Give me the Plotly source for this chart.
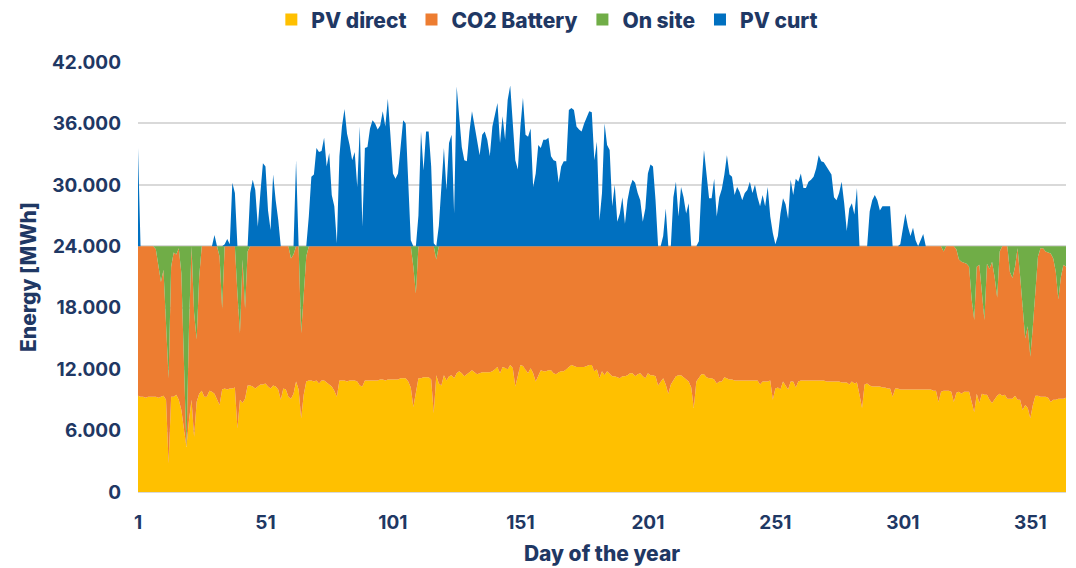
import plotly.graph_objects as go

days = list(range(1, 366))

pv_direct = [
    9400, 9300, 9300, 9200, 9300, 9300, 9300, 9300, 9200, 9300,
    9400, 9000, 2800, 9300, 9300, 9500, 9000, 8000, 6000, 4400,
    7000, 9000, 5400, 8800, 9600, 9900, 9300, 9300, 9900, 9800,
    9600, 9100, 8500, 10000, 10100, 10000, 10100, 10100, 10200, 6200,
    9000, 8700, 9100, 10400, 10400, 10300, 10100, 10300, 10500, 10500,
    10600, 10300, 10100, 10400, 10300, 10000, 9000, 10100, 10000, 9300,
    9100, 9600, 10800, 10000, 7200, 9500, 10800, 10900, 10900, 10800,
    10900, 10600, 10900, 10900, 10700, 10500, 10300, 9900, 9300, 10900,
    10900, 10900, 10800, 10900, 10900, 10900, 10800, 10400, 10300, 10900,
    10900, 10900, 10900, 10900, 10900, 11000, 11000, 10900, 11000, 11000,
    11000, 11000, 11000, 11100, 11100, 11100, 10800, 10200, 8300, 9800,
    11100, 11100, 11200, 11200, 11200, 11000, 7700, 11400, 10600, 10400,
    11400, 10900, 11300, 11400, 11100, 11600, 11800, 11600, 11300, 11500,
    11700, 11900, 11700, 11500, 11600, 11700, 11700, 11700, 11700, 11800,
    12000, 12200, 11600, 12200, 12100, 12000, 12400, 12100, 10300, 11500,
    12400, 12300, 11900, 11600, 12100, 11600, 10800, 11400, 11900, 11800,
    11800, 11900, 11900, 11600, 11500, 11700, 11800, 11800, 12000, 12200,
    12400, 12300, 12200, 12200, 12200, 12200, 12300, 12400, 12400, 11800,
    12000, 11100, 11800, 11400, 11800, 11500, 11300, 11300, 11200, 11100,
    11300, 11300, 11400, 11600, 11600, 11300, 11500, 11600, 11300, 11100,
    11600, 11400, 11400, 11300, 10400, 10800, 11100, 10500, 9600, 10500,
    10900, 11300, 11400, 11400, 11200, 11000, 10800, 10200, 8200, 10800,
    11200, 11500, 11500, 11200, 11100, 11100, 11000, 10600, 10800, 10800,
    11200, 11100, 11000, 11000, 10900, 10900, 10900, 10900, 10900, 10900,
    10900, 10900, 10900, 10900, 10500, 10800, 10800, 10800, 10900, 9000,
    10100, 10200, 10000, 10800, 10400, 10000, 10800, 10800, 10200, 10800,
    10900, 10900, 10900, 10900, 10900, 10900, 10900, 10900, 10900, 10900,
    10800, 10800, 10800, 10800, 10800, 10800, 10700, 10700, 10700, 10500,
    10800, 10600, 10700, 9500, 8200, 10500, 10600, 10400, 10300, 10300,
    10300, 10300, 10200, 10200, 10100, 10100, 9300, 10100, 10100, 10000,
    10000, 10000, 10000, 10000, 10000, 10000, 10000, 10000, 10000, 10000,
    10000, 10000, 9900, 9900, 8800, 9800, 9900, 9900, 9900, 9800,
    8800, 9700, 9800, 9600, 9800, 9800, 9800, 8800, 7800, 9600,
    8700, 9600, 9500, 9500, 9000, 8700, 9100, 9400, 9600, 9400,
    9500, 9100, 9100, 9100, 9400, 9000, 9000, 8000, 8500, 8200,
    7200, 8500, 9400, 9400, 9300, 9300, 9300, 9200, 8800, 9000,
    9000, 9100, 9100, 9100, 9200,
]

co2_battery = [
    14600, 14700, 14700, 14800, 14700, 14700, 14700, 14400, 13100, 11200,
    12300, 7100, 8300, 12700, 14100, 13700, 14800, 13400, 6200, 0,
    9100, 15000, 12100, 6100, 11400, 14100, 14700, 14700, 14100, 14200,
    14400, 14900, 14500, 7900, 13900, 14000, 13900, 13900, 13800, 13200,
    6500, 14000, 8800, 13100, 13600, 13700, 13900, 13700, 13500, 13500,
    13400, 13700, 13900, 13600, 13700, 14000, 15000, 13900, 14000, 14700,
    13700, 13600, 13200, 14000, 8300, 10000, 12200, 13100, 13100, 13200,
    13100, 13400, 13100, 13100, 13300, 13500, 13700, 14100, 14700, 13100,
    13100, 13100, 13200, 13100, 13100, 13100, 13200, 13600, 13700, 13100,
    13100, 13100, 13100, 13100, 13100, 13000, 13000, 13100, 13000, 13000,
    13000, 13000, 13000, 12900, 12900, 12900, 13200, 13800, 13700, 9600,
    12900, 12900, 12800, 12800, 12800, 13000, 16300, 11300, 13400, 13600,
    12600, 13100, 12700, 12600, 12900, 12400, 12200, 12400, 12700, 12500,
    12300, 12100, 12300, 12500, 12400, 12300, 12300, 12300, 12300, 12200,
    12000, 11800, 12400, 11800, 11900, 12000, 11600, 11900, 13700, 12500,
    11600, 11700, 12100, 12400, 11900, 12400, 13200, 12600, 12100, 12200,
    12200, 12100, 12100, 12400, 12500, 12300, 12200, 12200, 12000, 11800,
    11600, 11700, 11800, 11800, 11800, 11800, 11700, 11600, 11600, 12200,
    12000, 12900, 12200, 12600, 12200, 12500, 12700, 12700, 12800, 12900,
    12700, 12700, 12600, 12400, 12400, 12700, 12500, 12400, 12700, 12900,
    12400, 12600, 12600, 12700, 13600, 13200, 12900, 13500, 14400, 13500,
    13100, 12700, 12600, 12600, 12800, 13000, 13200, 13800, 15800, 13200,
    12800, 12500, 12500, 12800, 12900, 12900, 13000, 13400, 13200, 13200,
    12800, 12900, 13000, 13000, 13100, 13100, 13100, 13100, 13100, 13100,
    13100, 13100, 13100, 13100, 13500, 13200, 13200, 13200, 13100, 15000,
    13900, 13800, 14000, 13200, 13600, 14000, 13200, 13200, 13800, 13200,
    13100, 13100, 13100, 13100, 13100, 13100, 13100, 13100, 13100, 13100,
    13200, 13200, 13200, 13200, 13200, 13200, 13300, 13300, 13300, 13500,
    13200, 13400, 13300, 14500, 15800, 13500, 13400, 13600, 13700, 13700,
    13700, 13700, 13800, 13800, 13900, 13900, 14700, 13900, 13900, 14000,
    14000, 14000, 14000, 14000, 14000, 14000, 14000, 14000, 14000, 14000,
    14000, 14000, 14100, 14100, 15200, 14200, 13600, 14100, 14100, 14200,
    15200, 14000, 12900, 12900, 12600, 12500, 12200, 10000, 9000, 12400,
    13500, 9800, 7300, 12800, 12800, 13800, 11900, 9600, 13900, 14600,
    14500, 14900, 12400, 11800, 12600, 14800, 12100, 10000, 6500, 8000,
    6000, 7700, 10600, 13600, 14500, 14500, 14200, 14200, 14500, 13800,
    12500, 9700, 11900, 13100, 12800,
]

on_site = [
    0, 0, 0, 0, 0, 0, 0, 300, 1700, 3500,
    2300, 7900, 12900, 2000, 600, 800, 200, 2600, 11800, 19600,
    7900, 0, 6500, 9100, 3000, 0, 0, 0, 0, 0,
    0, 0, 1000, 6100, 0, 0, 0, 0, 0, 4600,
    8500, 1300, 6100, 500, 0, 0, 0, 0, 0, 0,
    0, 0, 0, 0, 0, 0, 0, 0, 0, 0,
    1200, 800, 0, 0, 8500, 4500, 1000, 0, 0, 0,
    0, 0, 0, 0, 0, 0, 0, 0, 0, 0,
    0, 0, 0, 0, 0, 0, 0, 0, 0, 0,
    0, 0, 0, 0, 0, 0, 0, 0, 0, 0,
    0, 0, 0, 0, 0, 0, 0, 0, 2000, 4600,
    0, 0, 0, 0, 0, 0, 0, 1300, 0, 0,
    0, 0, 0, 0, 0, 0, 0, 0, 0, 0,
    0, 0, 0, 0, 0, 0, 0, 0, 0, 0,
    0, 0, 0, 0, 0, 0, 0, 0, 0, 0,
    0, 0, 0, 0, 0, 0, 0, 0, 0, 0,
    0, 0, 0, 0, 0, 0, 0, 0, 0, 0,
    0, 0, 0, 0, 0, 0, 0, 0, 0, 0,
    0, 0, 0, 0, 0, 0, 0, 0, 0, 0,
    0, 0, 0, 0, 0, 0, 0, 0, 0, 0,
    0, 0, 0, 0, 0, 0, 0, 0, 0, 0,
    0, 0, 0, 0, 0, 0, 0, 0, 0, 0,
    0, 0, 0, 0, 0, 0, 0, 0, 0, 0,
    0, 0, 0, 0, 0, 0, 0, 0, 0, 0,
    0, 0, 0, 0, 0, 0, 0, 0, 0, 0,
    0, 0, 0, 0, 0, 0, 0, 0, 0, 0,
    0, 0, 0, 0, 0, 0, 0, 0, 0, 0,
    0, 0, 0, 0, 0, 0, 0, 0, 0, 0,
    0, 0, 0, 0, 0, 0, 0, 0, 0, 0,
    0, 0, 0, 0, 0, 0, 0, 0, 0, 0,
    0, 0, 0, 0, 0, 0, 0, 0, 0, 0,
    0, 0, 0, 0, 0, 0, 500, 0, 0, 0,
    0, 300, 1300, 1500, 1600, 1700, 2000, 5200, 7200, 2000,
    1800, 4600, 7200, 1700, 2200, 1500, 3000, 5000, 500, 0,
    0, 0, 2500, 3100, 2000, 200, 2900, 6000, 9000, 7800,
    10800, 7800, 4000, 1000, 200, 200, 500, 600, 700, 1200,
    2500, 5200, 3000, 1800, 2000,
]

pv_curt = [
    9600, 0, 0, 0, 0, 0, 0, 0, 0, 0,
    0, 0, 0, 0, 0, 0, 0, 0, 0, 0,
    0, 0, 0, 0, 0, 0, 0, 0, 0, 0,
    1100, 0, 0, 0, 200, 700, 200, 6200, 5200, 0,
    0, 0, 0, 0, 5200, 6500, 5500, 1900, 5200, 8100,
    7800, 3500, 1600, 7000, 4500, 2600, 0, 0, 0, 0,
    0, 0, 8400, 0, 0, 0, 0, 2900, 6800, 7000,
    9600, 9200, 9300, 10600, 7800, 9100, 5000, 3900, 300, 8800,
    11700, 13400, 11000, 9900, 8400, 9200, 5800, 11700, 1900, 9600,
    9700, 11500, 12300, 12000, 11400, 11800, 13200, 11700, 14400, 10900,
    7100, 6600, 7100, 9700, 12300, 12000, 6500, 600, 0, 0,
    3000, 11200, 7400, 11200, 11200, 7800, 300, 0, 2000, 5500,
    9600, 5500, 10100, 10900, 3200, 15600, 12700, 9700, 8400, 8300,
    11200, 13200, 11800, 10400, 8900, 10900, 11200, 10400, 8800, 11700,
    13000, 14000, 10100, 12700, 10400, 14300, 15700, 11700, 8400, 7500,
    11700, 14500, 10900, 10700, 11500, 5800, 7100, 9900, 9600, 10400,
    10400, 10600, 8800, 8400, 8300, 6200, 7800, 8300, 8300, 13300,
    13500, 13300, 11700, 11400, 11200, 12000, 12600, 13200, 13100, 8400,
    10200, 2500, 5200, 12000, 9900, 9400, 3900, 6000, 2400, 3200,
    4800, 2200, 4500, 5800, 6500, 6200, 5200, 4500, 2400, 3700,
    7100, 8000, 7800, 4500, 0, 0, 1000, 3700, 0, 0,
    4800, 6300, 2900, 5800, 4800, 3200, 4200, 0, 0, 0,
    500, 5800, 9400, 7100, 4700, 4700, 6600, 2900, 4800, 5600,
    7000, 8900, 7000, 6800, 5000, 5800, 5300, 4500, 5200, 5500,
    6300, 5200, 6000, 4800, 3900, 5000, 3900, 5800, 2900, 1300,
    200, 1000, 3200, 4700, 4100, 2700, 6500, 5000, 6600, 6300,
    7100, 5700, 5700, 6300, 6500, 6800, 7600, 8900, 8300, 8200,
    7800, 7300, 7000, 4800, 4500, 5200, 6300, 4200, 1500, 3700,
    4200, 3100, 5700, 0, 0, 0, 0, 3400, 4500, 5000,
    4500, 3500, 3900, 3900, 3900, 3900, 0, 0, 0, 200,
    1900, 3200, 1900, 1000, 1800, 600, 0, 600, 1200, 0,
    0, 0, 0, 0, 0, 0, 0, 0, 0, 0,
    0, 0, 0, 0, 0, 0, 0, 0, 0, 0,
    0, 0, 0, 0, 0, 0, 0, 0, 0, 0,
    0, 0, 0, 0, 0, 0, 0, 0, 0, 0,
    0, 0, 0, 0, 0, 0, 0, 0, 0, 0,
    0, 0, 0, 0, 0,
]

series_names = ["PV direct", "CO2 Battery", "On site", "PV curt"]
series_colors = ["#FFC000", "#ED7D31", "#70AD47", "#0070C0"]

x_tick_vals = [1, 51, 101, 151, 201, 251, 301, 351]
y_tick_vals = [0, 6000, 12000, 18000, 24000, 30000, 36000, 42000]
y_tick_text = ["0", "6.000", "12.000", "18.000", "24.000", "30.000", "36.000", "42.000"]

NAVY = "#1F3864"
FONT = "Inter"

fig = go.Figure()
for name, vals, color in zip(series_names, [pv_direct, co2_battery, on_site, pv_curt], series_colors):
    fig.add_trace(go.Scatter(
        x=days, y=vals, name=name, mode="lines",
        line=dict(width=0, color=color), fillcolor=color,
        stackgroup="one", showlegend=False, legendgroup=name,
        hoverinfo="x+y+name",
    ))
# legend entries with square swatches
for name, color in zip(series_names, series_colors):
    fig.add_trace(go.Scatter(
        x=[None], y=[None], name=name, mode="markers",
        marker=dict(symbol="square", size=12, color=color),
        legendgroup=name, showlegend=True,
    ))

# the page body has an 8px margin, so the figure is sized to the visible area
fig.update_layout(
    width=1068, height=560,
    margin=dict(l=130, r=10, t=54, b=76),
    paper_bgcolor="white", plot_bgcolor="white",
    font=dict(family=FONT, color=NAVY, size=20, weight="bold"),
    legend=dict(
        orientation="h", xref="container", yref="container",
        x=0.505, xanchor="center", y=0.979, yanchor="middle",
        font=dict(family=FONT, size=21, color=NAVY, weight=800),
        itemwidth=30, tracegroupgap=0, bgcolor="rgba(0,0,0,0)",
    ),
    xaxis=dict(
        range=[1, 365], tickmode="array", tickvals=x_tick_vals,
        ticktext=[str(v) for v in x_tick_vals],
        showgrid=False, zeroline=False, showline=False, ticks="",
        automargin=False,
        tickfont=dict(family=FONT, size=19, color=NAVY, weight="bold"),
        ticklabelstandoff=17,
        title=dict(text="Day of the year", standoff=13,
                   font=dict(family=FONT, size=21, color=NAVY, weight=800)),
    ),
    yaxis=dict(
        range=[0, 42000], tickmode="array", tickvals=y_tick_vals, ticktext=y_tick_text,
        showgrid=True, gridcolor="#D9D9D9", gridwidth=1.5,
        zeroline=True, zerolinecolor="#D9D9D9", zerolinewidth=1.5,
        showline=False, ticks="", automargin=False,
        tickfont=dict(family=FONT, size=19, color=NAVY, weight="bold"),
        ticklabelstandoff=16,
        title=dict(text="Energy [MWh]", standoff=9,
                   font=dict(family=FONT, size=21, color=NAVY, weight=800)),
    ),
)

fig.write_html("out.html")
